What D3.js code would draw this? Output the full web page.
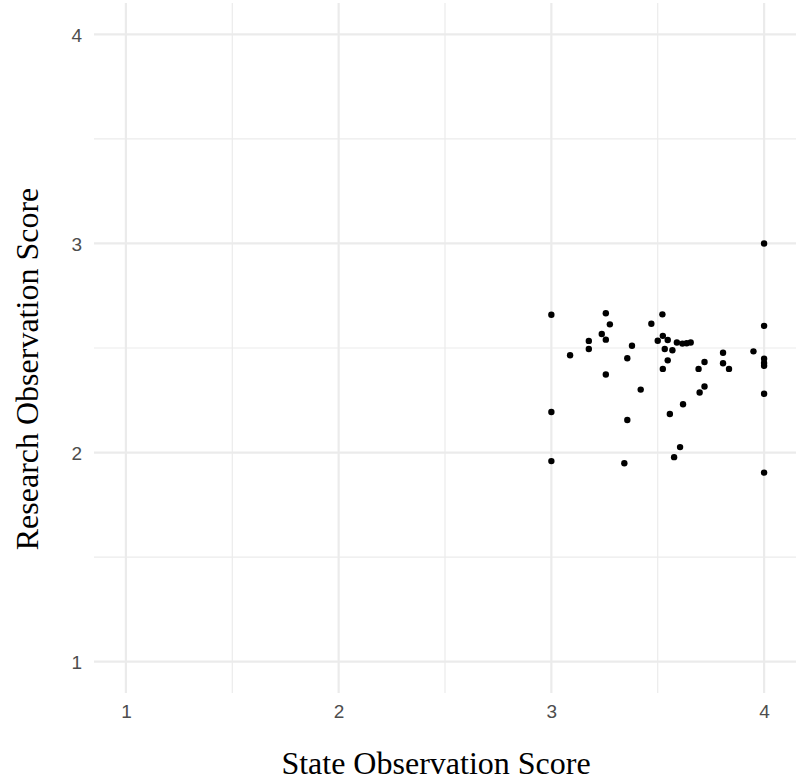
<!DOCTYPE html>
<html>
<head>
<meta charset="utf-8">
<title>State vs Research observation score</title>
<style type="text/css">
    html, body {
        margin: 0;
        background: #fff;
    }
    .tick text {
        font-family: "Liberation Sans", Arial, sans-serif;
        font-size: 19px;
        fill: #4d4d4d;
    }
    .axis-title {
        font-family: "Liberation Serif", "Times New Roman", serif;
        font-size: 32px;
        fill: #000;
    }
</style>
</head>
<body>
<svg id="chart" width="796" height="783"></svg>

<script src="https://cdn.jsdelivr.net/npm/d3@7"></script>
<script>
    "use strict";

    // state observation score (x) and research observation score (y)
    const stateScore = [
        3.000, 3.000, 3.000, 3.088, 3.176, 3.176, 3.237, 3.256, 3.256, 3.256,
        3.275, 3.343, 3.357, 3.357, 3.379, 3.420, 3.470, 3.500, 3.522, 3.524,
        3.533, 3.547, 3.547, 3.524, 3.557, 3.569, 3.577, 3.590, 3.605, 3.616,
        3.619, 3.636, 3.655, 3.692, 3.697, 3.720, 3.720, 3.807, 3.807, 3.835,
        3.950, 4.000, 4.000, 4.000, 4.000, 4.000, 4.000, 4.000
    ];
    const researchScore = [
        2.659, 2.194, 1.959, 2.465, 2.534, 2.495, 2.567, 2.666, 2.540, 2.373,
        2.613, 1.949, 2.451, 2.156, 2.511, 2.301, 2.616, 2.535, 2.661, 2.558,
        2.495, 2.538, 2.441, 2.400, 2.184, 2.489, 1.978, 2.526, 2.026, 2.521,
        2.231, 2.523, 2.526, 2.400, 2.287, 2.433, 2.316, 2.477, 2.427, 2.400,
        2.484, 3.000, 2.606, 2.449, 2.428, 2.415, 2.281, 1.904
    ];
    const majorTicks = [1, 2, 3, 4];
    const minorTicks = [1.5, 2.5, 3.5];

    const svg = d3.select("#chart");
    const panel = {left: 94, right: 796, top: 3, bottom: 693};

    // ggplot-style 5% expansion around 1..4
    const x = d3.scaleLinear().domain([0.85, 4.15]).range([panel.left, panel.right]);
    const y = d3.scaleLinear().domain([0.85, 4.15]).range([panel.bottom, panel.top]);

    const grid = svg.append("g").attr("class", "grid");

    // minor grid
    grid.selectAll(".minor-x").data(minorTicks).enter().append("line")
        .attr("x1", d => x(d)).attr("x2", d => x(d))
        .attr("y1", panel.top).attr("y2", panel.bottom)
        .attr("stroke", "#ebebeb").attr("stroke-width", 1.2);
    grid.selectAll(".minor-y").data(minorTicks).enter().append("line")
        .attr("y1", d => y(d)).attr("y2", d => y(d))
        .attr("x1", panel.left).attr("x2", panel.right)
        .attr("stroke", "#ebebeb").attr("stroke-width", 1.2);

    // major grid
    grid.selectAll(".major-x").data(majorTicks).enter().append("line")
        .attr("x1", d => x(d)).attr("x2", d => x(d))
        .attr("y1", panel.top).attr("y2", panel.bottom)
        .attr("stroke", "#ebebeb").attr("stroke-width", 2.2);
    grid.selectAll(".major-y").data(majorTicks).enter().append("line")
        .attr("y1", d => y(d)).attr("y2", d => y(d))
        .attr("x1", panel.left).attr("x2", panel.right)
        .attr("stroke", "#ebebeb").attr("stroke-width", 2.2);

    // axes (labels only, no lines)
    const xAxis = svg.append("g")
        .attr("transform", "translate(0," + panel.bottom + ")")
        .call(d3.axisBottom(x).tickValues(majorTicks).tickFormat(d3.format("d")).tickSize(0).tickPadding(12));
    const yAxis = svg.append("g")
        .attr("transform", "translate(" + panel.left + ",0)")
        .call(d3.axisLeft(y).tickValues(majorTicks).tickFormat(d3.format("d")).tickSize(0).tickPadding(12));
    xAxis.select(".domain").remove();
    yAxis.select(".domain").remove();
    xAxis.selectAll(".tick text").attr("font-family", null).attr("font-size", null);
    yAxis.selectAll(".tick text").attr("font-family", null).attr("font-size", null)
        .attr("dy", "0.36em");

    // points
    svg.append("g").selectAll("circle")
        .data(stateScore.map((s, i) => ({s: s, r: researchScore[i]})))
        .enter().append("circle")
        .attr("cx", d => x(d.s))
        .attr("cy", d => y(d.r))
        .attr("r", 3.2)
        .attr("fill", "#000");

    // axis titles
    svg.append("text")
        .attr("class", "axis-title")
        .attr("x", 436)
        .attr("y", 774)
        .attr("text-anchor", "middle")
        .text("State Observation Score");

    svg.append("text")
        .attr("class", "axis-title")
        .attr("transform", "translate(38,369) rotate(-90)")
        .attr("text-anchor", "middle")
        .text("Research Observation Score");
</script>
</body>
</html>
